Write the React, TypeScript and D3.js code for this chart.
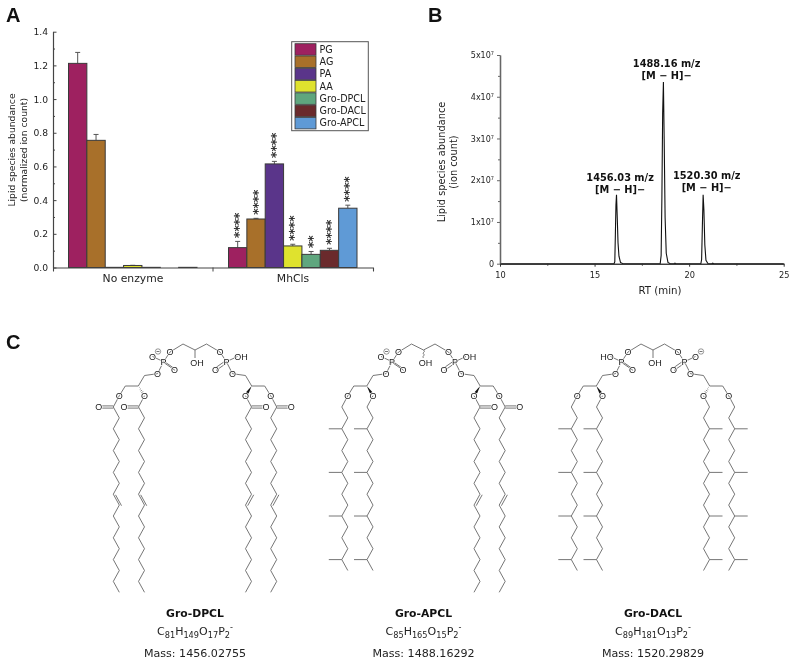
import * as d3 from "d3";
import { useEffect, useRef } from "react";

const groups = ["No enzyme", "MhCls"];
const species = ["PG", "AG", "PA", "AA", "Gro-DPCL", "Gro-DACL", "Gro-APCL"];
const speciesColors = ["#9e2160", "#a8702a", "#5a358a", "#dfe22e", "#5fa67e", "#6a2a2c", "#5f9ad6"];
const noEnzymeMeans = [1.212, 0.755, 0.001, 0.012, 0.001, 0.0, 0.001];
const noEnzymeErrs = [0.065, 0.035, 0, 0.001, 0, 0, 0];
const mhclsMeans = [0.118, 0.288, 0.615, 0.128, 0.078, 0.102, 0.352];
const mhclsErrs = [0.037, 0.004, 0.015, 0.01, 0.017, 0.012, 0.018];
const mhclsStars = ["****", "****", "****", "****", "**", "****", "****"];

const rtTimes = [10, 16.03, 16.07, 16.1, 16.13, 16.16, 16.2, 16.24, 16.29, 16.37, 16.5, 18.47, 18.52, 18.56, 18.6, 18.64, 18.68, 18.73, 18.79, 18.88, 19.0, 19.2, 19.25, 19.3, 20.62, 20.66, 20.7, 20.74, 20.78, 20.83, 20.89, 21.0, 21.2, 21.25, 21.3, 25];
const rtCounts = [0, 0, 0.05e7, 0.7e7, 1.4e7, 1.65e7, 1.1e7, 0.5e7, 0.18e7, 0.03e7, 0, 0, 0.2e7, 1.6e7, 3.6e7, 4.35e7, 3.0e7, 1.1e7, 0.25e7, 0.03e7, 0, 0, 0.015e7, 0, 0, 0.1e7, 0.9e7, 1.65e7, 1.3e7, 0.45e7, 0.08e7, 0, 0, 0.012e7, 0, 0];
const peakTitles = ["1456.03 m/z", "1488.16 m/z", "1520.30 m/z"];
const peakTimes = [16.35, 18.81, 20.93];
const peakHeights = [1.99e7, 4.72e7, 2.02e7];

const moleculeNames = ["Gro-DPCL", "Gro-APCL", "Gro-DACL"];
const moleculeFormulas = [
  [["C", "81"], ["H", "149"], ["O", "17"], ["P", "2"]],
  [["C", "85"], ["H", "165"], ["O", "15"], ["P", "2"]],
  [["C", "89"], ["H", "181"], ["O", "13"], ["P", "2"]],
];
const moleculeMasses = ["Mass: 1456.02755", "Mass: 1488.16292", "Mass: 1520.29829"];
const moleculeCenters = [195, 423.5, 653];
const leftTails = ["ester", "ether", "ether"];
const rightTails = ["ester", "ester", "ether"];
const leftStereo = ["hash", "wedge", "wedge"];
const rightStereo = ["wedge", "wedge", "hash"];
const wavyCenter = [false, true, false];
const anionOnLeft = [true, true, false];

const serif = "'DejaVu Sans', sans-serif";
const atomFont = "'Liberation Sans', sans-serif";

const styleAxis = (g, color = "#444", width = 1.1) => {
  g.selectAll("path").attr("stroke", color).attr("stroke-width", width);
  g.selectAll("line").attr("stroke", color).attr("stroke-width", 1);
  g.selectAll("text").attr("fill", "#222").style("font-family", serif);
};

const drawPanelA = (svg) => {
  const root = svg.append("g");
  const x = d3.scaleBand().domain(groups).range([53, 373]);
  const y = d3.scaleLinear().domain([0, 1.4]).range([267.5, 31.7]);
  const inner = d3.scaleBand().domain(species).range([15.5, 144]);

  const rows = groups.flatMap((group, gi) =>
    species.map((name, i) => ({
      group,
      name,
      color: speciesColors[i],
      mean: gi === 0 ? noEnzymeMeans[i] : mhclsMeans[i],
      err: gi === 0 ? noEnzymeErrs[i] : mhclsErrs[i],
      stars: gi === 0 ? "" : mhclsStars[i],
    }))
  );

  const cx = (d) => x(d.group) + inner(d.name) + inner.bandwidth() / 2;

  // error bars go under the bars
  const errs = root.append("g").selectAll("g").data(rows.filter((d) => d.err > 0)).join("g").attr("stroke", "#555").attr("stroke-width", 1);
  errs.append("line").attr("x1", cx).attr("x2", cx).attr("y1", (d) => y(d.mean)).attr("y2", (d) => y(d.mean + d.err));
  errs.append("line").attr("x1", (d) => cx(d) - 2.5).attr("x2", (d) => cx(d) + 2.5).attr("y1", (d) => y(d.mean + d.err)).attr("y2", (d) => y(d.mean + d.err));

  root.append("g").selectAll("rect").data(rows).join("rect")
    .attr("x", (d) => x(d.group) + inner(d.name))
    .attr("width", inner.bandwidth())
    .attr("y", (d) => y(d.mean))
    .attr("height", (d) => y(0) - y(d.mean))
    .attr("fill", (d) => d.color)
    .attr("stroke", "#3a3a3a")
    .attr("stroke-width", 1);

  root.append("g").selectAll("text").data(rows.filter((d) => d.stars)).join("text")
    .attr("transform", (d) => `translate(${cx(d) + 5.6},${y(d.mean + d.err) - 3.5}) rotate(-90)`)
    .style("font-family", serif)
    .style("font-size", "12.6px")
    .attr("fill", "#222")
    .attr("stroke", "#222")
    .attr("stroke-width", 0.25)
    .text((d) => d.stars);

  // y ticks point into the plot
  const axisY = d3.axisLeft(y).tickValues(d3.range(0, 1.41, 0.2)).tickFormat(d3.format(".1f")).tickSize(-3.5).tickPadding(5).tickSizeOuter(0);
  const gy = root.append("g").attr("transform", "translate(53,0)").call(axisY);
  styleAxis(gy);
  gy.selectAll("text").style("font-size", "9.2px");
  const minorY = d3.axisLeft(y).tickValues(d3.range(0.1, 1.4, 0.2)).tickFormat(() => "").tickSize(-2).tickSizeOuter(0);
  styleAxis(root.append("g").attr("transform", "translate(53,0)").call(minorY));

  const axisX = d3.axisBottom(x).tickSize(0).tickSizeOuter(4);
  const gx = root.append("g").attr("transform", "translate(0,267.5)").call(axisX);
  styleAxis(gx);
  gx.selectAll("text").attr("dy", "11.5px").style("font-size", "10.8px");
  gx.append("line").attr("x1", 213).attr("x2", 213).attr("y1", 0).attr("y2", 4).attr("stroke", "#444");

  const label = root.append("text").attr("transform", "translate(14.5,150) rotate(-90)")
    .attr("text-anchor", "middle").style("font-family", serif).style("font-size", "9.2px").attr("fill", "#222");
  label.append("tspan").attr("x", 0).attr("y", 0).text("Lipid species abundance");
  label.append("tspan").attr("x", 0).attr("y", 12).text("(normalized ion count)");

  const legend = root.append("g");
  legend.append("rect").attr("x", 291.7).attr("y", 41.7).attr("width", 76.6).attr("height", 89)
    .attr("fill", "#fff").attr("stroke", "#555").attr("stroke-width", 1);
  const legendY = d3.scaleBand().domain(species).range([43.3, 129.3]);
  const items = legend.selectAll("g").data(species).join("g");
  items.append("rect").attr("x", 295).attr("width", 21).attr("y", (d) => legendY(d) + 0.4).attr("height", legendY.bandwidth() - 0.8)
    .attr("fill", (d, i) => speciesColors[i]).attr("stroke", "#3a3a3a").attr("stroke-width", 0.8);
  items.append("text").attr("x", 319.5).attr("y", (d) => legendY(d) + 9.4)
    .style("font-family", serif).style("font-size", "9.6px").attr("fill", "#222").text((d) => d);
};

const drawPanelB = (svg) => {
  const root = svg.append("g");
  const x = d3.scaleLinear().domain([10, 25]).range([500, 783.7]);
  const y = d3.scaleLinear().domain([0, 5e7]).range([263.7, 55]);

  const line = d3.line().x((d) => x(d[0])).y((d) => y(d[1]));
  root.append("path").datum(rtTimes.map((t, i) => [t, rtCounts[i]]))
    .attr("d", line).attr("fill", "none").attr("stroke", "#111").attr("stroke-width", 1.1);

  const axisY = d3.axisLeft(y).tickValues(d3.range(0, 5.1e7, 1e7)).tickFormat(() => "").tickSize(3).tickSizeOuter(0);
  const gy = root.append("g").attr("transform", "translate(500,0)").call(axisY);
  styleAxis(gy, "#666", 1.3);
  gy.selectAll("text").style("font-size", "8px").each(function (d) {
    const t = d3.select(this);
    const n = d / 1e7;
    if (n === 0) {
      t.text("0");
    } else {
      t.append("tspan").text(`${n}x10`);
      t.append("tspan").attr("dy", "-3").style("font-size", "5px").text("7");
    }
  });
  styleAxis(root.append("g").attr("transform", "translate(500,0)")
    .call(d3.axisLeft(y).tickValues(d3.range(0.5e7, 5e7, 1e7)).tickFormat(() => "").tickSize(2).tickSizeOuter(0)), "#666", 1.3);

  const axisX = d3.axisBottom(x).tickValues([10, 15, 20, 25]).tickFormat(d3.format("d")).tickSize(3).tickSizeOuter(0);
  const gx = root.append("g").attr("transform", "translate(0,263.7)").call(axisX);
  styleAxis(gx, "#333");
  gx.selectAll("text").attr("dy", "8px").style("font-size", "8.2px");
  styleAxis(root.append("g").attr("transform", "translate(0,263.7)")
    .call(d3.axisBottom(x).tickValues([12.5, 17.5, 22.5]).tickFormat(() => "").tickSize(2).tickSizeOuter(0)), "#333");

  root.append("text").attr("x", 660).attr("y", 294).attr("text-anchor", "middle")
    .style("font-family", serif).style("font-size", "10.2px").attr("fill", "#222").text("RT (min)");

  const label = root.append("text").attr("transform", "translate(444.5,162) rotate(-90)")
    .attr("text-anchor", "middle").style("font-family", serif).style("font-size", "9.8px").attr("fill", "#222");
  label.append("tspan").attr("x", 0).attr("y", 0).text("Lipid species abundance");
  label.append("tspan").attr("x", 0).attr("y", 12).text("(ion count)");

  peakTitles.forEach((title, i) => {
    const t = root.append("text").attr("text-anchor", "middle").style("font-family", serif)
      .style("font-size", "9.8px").style("font-weight", "bold").attr("fill", "#111");
    t.append("tspan").attr("x", x(peakTimes[i])).attr("y", y(peakHeights[i])).text(title);
    t.append("tspan").attr("x", x(peakTimes[i])).attr("y", y(peakHeights[i]) + 12).text("[M \u2212 H]\u2212");
  });
};

// tail points run down from the carbon below the glycerol oxygen
const tailStep = 10.9;
const tailTop = 407;

const tailPoints = (side, base, segments, x) =>
  d3.range(segments + 1).map((i) => [x(side * (i % 2 === 0 ? base + 6 : base)), tailTop + i * tailStep]);

const drawTail = (g, type, side, base, x, bond) => {
  const segments = type === "ester" ? 17 : 15;
  const pts = tailPoints(side, base, segments, x);
  bond(g, [[x(side * base), 395.7], pts[0]]);
  bond(g, pts);
  if (type === "ester") {
    const cx = pts[0][0];
    const ox = x(side * (base + 19));
    bond(g, [[cx, tailTop - 1.1], [ox, tailTop - 1.1]]);
    bond(g, [[cx, tailTop + 1.1], [ox, tailTop + 1.1]]);
    bond(g, [[pts[8][0] + 2.2, pts[8][1] + 0.6], [pts[9][0] + 2.2, pts[9][1] + 0.6]]);
    atom(g, ox + side * 1.5, tailTop, "O");
  } else {
    [2, 6, 10, 14].forEach((i) => bond(g, [pts[i], [x(side * (base + 19)), pts[i][1]]]));
  }
  atom(g, x(side * base), 395.7, "O");
};

const atom = (g, ax, ay, text) =>
  g.append("text").attr("x", ax).attr("y", ay).attr("dy", "0.36em").attr("text-anchor", "middle")
    .style("font-family", atomFont).style("font-size", "9px").attr("fill", "#222")
    .attr("stroke", "#fff").attr("stroke-width", 1.4).style("paint-order", "stroke").text(text);

const drawStereo = (g, kind, from, to) => {
  const dx = to[0] - from[0];
  const dy = to[1] - from[1];
  const len = Math.hypot(dx, dy);
  const nx = -dy / len;
  const ny = dx / len;
  if (kind === "wedge") {
    const tip = [from[0] + dx * 0.75, from[1] + dy * 0.75];
    g.append("path")
      .attr("d", d3.line()([from, [tip[0] + nx * 1.5, tip[1] + ny * 1.5], [tip[0] - nx * 1.5, tip[1] - ny * 1.5]]) + "Z")
      .attr("fill", "#111");
  } else {
    d3.range(1, 5).forEach((k) => {
      const t = k * 0.16;
      const w = t * 2;
      g.append("line")
        .attr("x1", from[0] + dx * t + nx * w).attr("y1", from[1] + dy * t + ny * w)
        .attr("x2", from[0] + dx * t - nx * w).attr("y2", from[1] + dy * t - ny * w)
        .attr("stroke", "#444").attr("stroke-width", 0.6);
    });
  }
};

const drawMolecule = (svg, m) => {
  const g = svg.append("g");
  const c = moleculeCenters[m];
  const x = d3.scaleLinear().domain([-100, 100]).range([c - 100, c + 100]);
  const path = d3.line();
  const bond = (target, pts) =>
    target.append("path").attr("d", path(pts)).attr("fill", "none").attr("stroke", "#666").attr("stroke-width", 0.9);

  bond(g, [[x(-25), 352], [x(-12), 344], [x(0), 350], [x(11.5), 344], [x(25), 352]]);
  if (wavyCenter[m]) {
    g.append("path")
      .attr("d", d3.line().curve(d3.curveBasis)([[x(0), 350], [x(1.6), 351.6], [x(-1.4), 353.2], [x(1.6), 354.8], [x(-1), 356.4], [x(0), 358]]))
      .attr("fill", "none").attr("stroke", "#555").attr("stroke-width", 0.8);
  } else {
    bond(g, [[x(0), 350], [x(0), 358]]);
  }

  [-1, 1].forEach((s) => {
    const pX = x(s * 31.4);
    bond(g, [[x(s * 25), 352], [pX, 361.7]]);
    bond(g, [[pX, 361.7], [x(s * 37.5), 373.7]]);
    bond(g, [[pX, 361.7], [x(s * 42.5), 356.5]]);
    bond(g, [[pX - 0.6, 360.6], [x(s * 20.5) - 0.6, 368.2]]);
    bond(g, [[pX + 0.6, 362.8], [x(s * 20.5) + 0.6, 370.4]]);
    bond(g, [[x(s * 37.5), 373.7], [x(s * 50.5), 375.5], [x(s * 56.7), 386], [x(s * 69.7), 386], [x(s * 75.7), 395.7]]);

    const base = s < 0 ? leftTails[m] : rightTails[m];
    drawTail(g, base, s, 75.7, x, bond);
    drawTail(g, base, s, 50.5, x, bond);

    const stereo = s < 0 ? leftStereo[m] : rightStereo[m];
    drawStereo(g, stereo, [x(s * 56.7), 386], [x(s * 50.5), 395.7]);
    atom(g, x(s * 50.5), 395.7, "O");

    atom(g, x(s * 25), 352, "O");
    atom(g, pX, 361.7, "P");
    atom(g, x(s * 37.5), 373.7, "O");
    atom(g, x(s * 20.5), 369.3, "O");

    const anion = s < 0 ? anionOnLeft[m] : !anionOnLeft[m];
    if (anion) {
      atom(g, x(s * 42.5), 356.5, "O");
      const mx = x(s * 48) - (s < 0 ? -11 : 0);
      g.append("circle").attr("cx", mx).attr("cy", 351.5).attr("r", 2.7)
        .attr("fill", "#fff").attr("stroke", "#555").attr("stroke-width", 0.6);
      bond(g, [[mx - 1.5, 351.5], [mx + 1.5, 351.5]]);
    } else {
      atom(g, x(s * 46), 356.5, s < 0 ? "HO" : "OH");
    }
  });
  atom(g, x(2), 362.5, "OH");

  // caption under each structure
  g.append("text").attr("x", c).attr("y", 617).attr("text-anchor", "middle")
    .style("font-family", serif).style("font-size", "10.8px").style("font-weight", "bold").attr("fill", "#111")
    .text(moleculeNames[m]);

  const formula = g.append("text").attr("x", c).attr("y", 635).attr("text-anchor", "middle")
    .style("font-family", serif).style("font-size", "11px").attr("fill", "#222");
  moleculeFormulas[m].forEach(([el, n], i) => {
    formula.append("tspan").attr("dy", i === 0 ? 0 : -2.8).text(el);
    formula.append("tspan").attr("dy", 2.8).style("font-size", "8.2px").text(n);
  });
  formula.append("tspan").attr("dy", -7.5).style("font-size", "8.2px").text("-");

  g.append("text").attr("x", c).attr("y", 656.5).attr("text-anchor", "middle")
    .style("font-family", serif).style("font-size", "11.1px").attr("fill", "#222").text(moleculeMasses[m]);
};

export default function App() {
  const ref = useRef(null);

  useEffect(() => {
    const svg = d3.select(ref.current);
    svg.selectAll("*").remove();

    [["A", 6, 22], ["B", 428, 22], ["C", 6, 349]].forEach(([t, px, py]) => {
      svg.append("text").attr("x", px).attr("y", py).style("font-family", atomFont)
        .style("font-size", "20px").style("font-weight", "bold").attr("fill", "#111").text(t);
    });

    drawPanelA(svg);
    drawPanelB(svg);
    moleculeNames.forEach((_, m) => drawMolecule(svg, m));
  }, []);

  return (
    <svg ref={ref} width={790} height={658} style={{ position: "absolute", left: 0, top: 0, background: "#fff", filter: "blur(0.3px)" }} />
  );
}
